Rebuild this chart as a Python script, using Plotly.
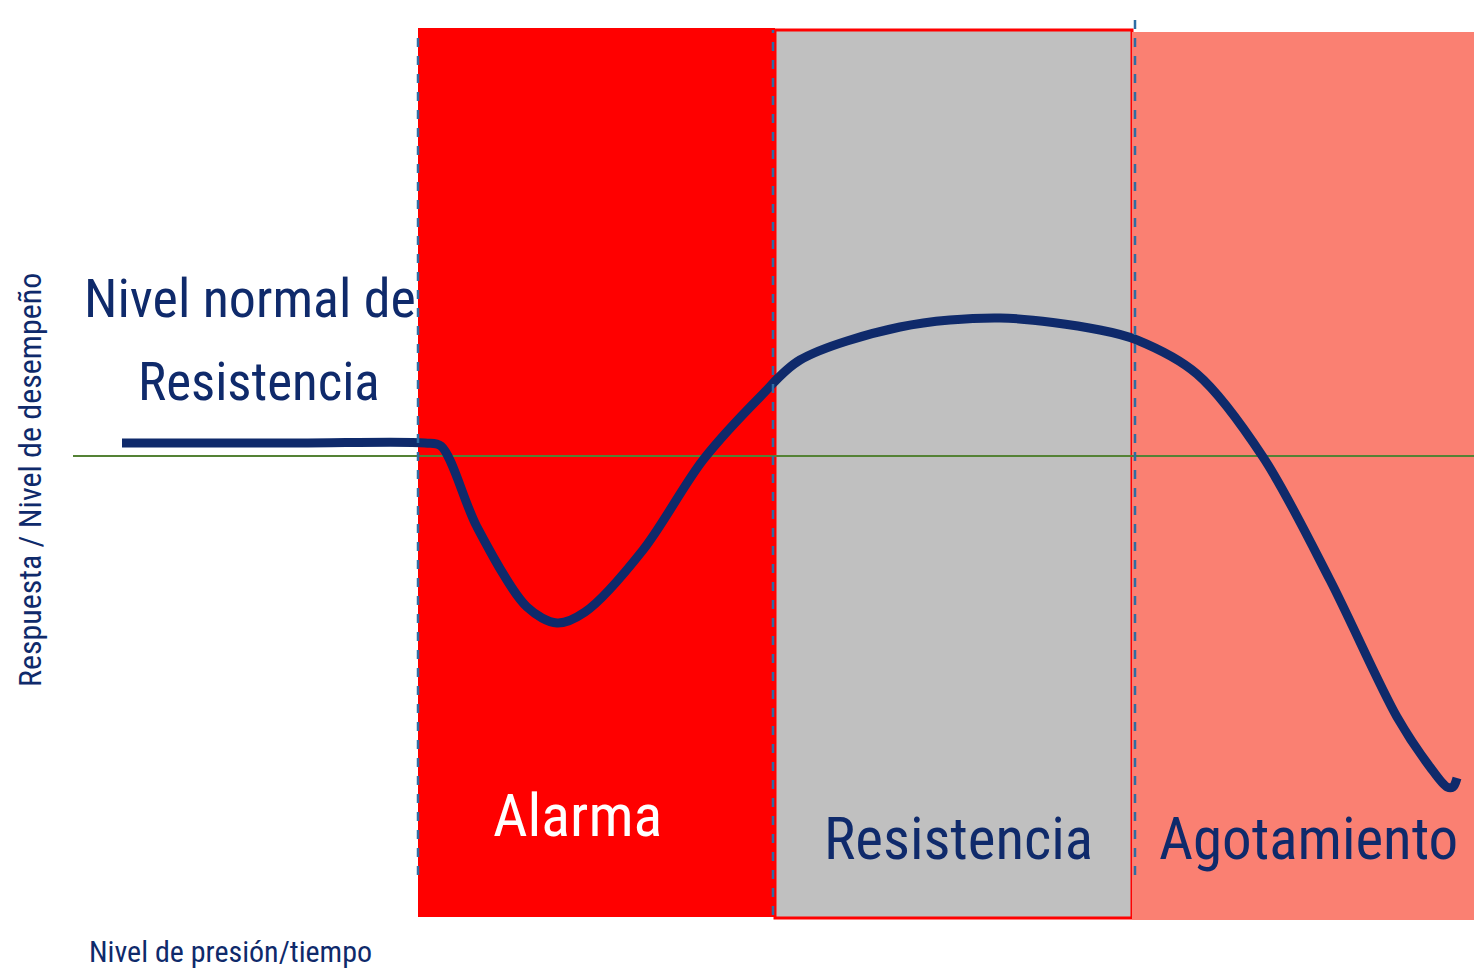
import plotly.graph_objects as go

# ---- data (x: pressure/time units, y: response relative to normal level) ----
phase_names = ["Alarma", "Resistencia", "Agotamiento"]
phase_start = [418, 775, 1132]
phase_end = [775, 1132, 1490]
phase_top = [428, 426, 424]
phase_bottom = [-461, -462, -464]

divider_x = [418, 773, 1135]
divider_top = [426, 426, 444]
divider_bottom = [-419, -459, -419]

curve_x = [122, 300, 425, 441, 477, 527, 557, 585, 643, 703, 760, 800, 900, 1000,
           1100, 1137, 1197, 1263, 1330, 1397, 1430, 1447, 1453, 1457]
curve_row = [443, 443, 443, 446, 527, 607, 623, 612, 550, 460, 397, 360, 327, 318,
             330, 340, 374, 457, 580, 717, 767, 787, 787, 778]
BASE = 456
curve_y = [BASE - r for r in curve_row]

baseline_x = [73, 1490]
baseline_y = [0, 0]

y_title = "Respuesta / Nivel de desempeño"
x_title = "Nivel de presión/tiempo"
normal_label = ["Nivel normal de", "Resistencia"]

# ---- styles ----
phase_fill = ["#FF0000", "#C0C0C0", "#FA8072"]
phase_line = ["rgba(0,0,0,0)", "#FF0000", "rgba(0,0,0,0)"]
phase_text_color = ["#FFFFFF", "#0F2A6B", "#0F2A6B"]
phase_label_x = [577, 958, 1308]
phase_label_y = [BASE - 815, BASE - 838, BASE - 838]
phase_label_size = [60, 59, 59]
NAVY = "#0F2A6B"
FONT = "Roboto Condensed, Liberation Sans Narrow, DejaVu Sans Condensed, Roboto, sans-serif"

# page offset (browser body margin)
OFF = 8
W, H = 1482, 980

fig = go.Figure()

shapes = []
for i in range(len(phase_names)):
    shapes.append(dict(type="rect", xref="x", yref="y",
                       x0=phase_start[i], x1=phase_end[i],
                       y0=phase_bottom[i], y1=phase_top[i],
                       fillcolor=phase_fill[i],
                       line=dict(color=phase_line[i], width=3),
                       layer="below"))
for i in range(len(divider_x)):
    shapes.append(dict(type="line", xref="x", yref="y",
                       x0=divider_x[i], x1=divider_x[i],
                       y0=divider_bottom[i], y1=divider_top[i],
                       line=dict(color="#2E6DA4", width=2.5, dash="dash"),
                       layer="above"))

fig.add_trace(go.Scatter(x=baseline_x, y=baseline_y, mode="lines",
                         line=dict(color="#548235", width=2),
                         hoverinfo="skip", showlegend=False))
fig.add_trace(go.Scatter(x=curve_x, y=curve_y, mode="lines",
                         line=dict(color=NAVY, width=9, shape="spline", smoothing=0.9),
                         hoverinfo="skip", showlegend=False))

annotations = []
for i in range(len(phase_names)):
    annotations.append(dict(x=phase_label_x[i], y=phase_label_y[i], text=phase_names[i],
                            showarrow=False,
                            font=dict(family=FONT, size=phase_label_size[i],
                                      color=phase_text_color[i])))
annotations.append(dict(x=250, y=BASE - 298, text=normal_label[0], showarrow=False,
                        font=dict(family=FONT, size=54, color=NAVY)))
annotations.append(dict(x=259, y=BASE - 382, text=normal_label[1], showarrow=False,
                        font=dict(family=FONT, size=53, color=NAVY)))
annotations.append(dict(x=30, y=BASE - 480, text=y_title, showarrow=False, textangle=-90,
                        font=dict(family=FONT, size=32, color=NAVY)))
annotations.append(dict(x=230, y=BASE - 951, text=x_title, showarrow=False,
                        font=dict(family=FONT, size=30, color=NAVY)))

fig.update_layout(
    width=W - OFF, height=H - 2 * OFF,
    margin=dict(l=0, r=0, t=0, b=0),
    paper_bgcolor="white", plot_bgcolor="white",
    shapes=shapes, annotations=annotations,
    xaxis=dict(range=[OFF, W], visible=False, fixedrange=True),
    yaxis=dict(range=[BASE - (H - OFF), BASE - OFF], visible=False, fixedrange=True),
    showlegend=False,
)

fig.write_html("out.html")
